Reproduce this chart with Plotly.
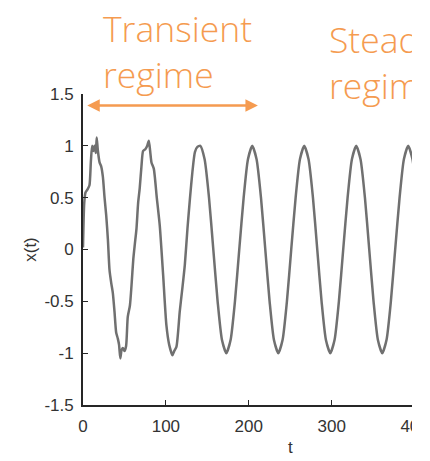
import plotly.graph_objects as go

# ---- data ----
t_transient = [0, 1.5, 3, 5.5, 7.8, 9.5, 11, 12.5, 14, 15.5, 16.5, 18, 20, 22, 24, 26, 28, 30,
               32, 34, 36, 38, 40, 42, 43.5, 45, 46.5, 48, 50, 52, 54, 56.6, 58.5, 60.7, 62.5,
               64.5, 66.5, 68.4, 70.5, 72.5, 75.4, 77.5, 79.4, 81, 82.6, 85.4, 89, 92.6, 96.7,
               100.6, 104, 107.9, 110, 112.7, 116.7, 119.5, 122.8, 126, 129, 132, 135, 138]
x_transient = [0.02, 0.45, 0.55, 0.58, 0.62, 0.85, 1.0, 0.95, 1.0, 0.93, 1.08, 0.95, 0.84, 0.8,
               0.7, 0.5, 0.33, 0.1, -0.2, -0.32, -0.42, -0.6, -0.8, -0.86, -0.92, -1.05, -0.97,
               -0.95, -0.98, -0.93, -0.65, -0.54, -0.35, -0.09, 0.05, 0.2, 0.45, 0.59, 0.8, 0.95,
               0.97, 1.0, 1.05, 0.95, 0.84, 0.78, 0.5, 0.23, -0.25, -0.73, -0.92, -1.02, -0.98,
               -0.94, -0.6, -0.4, -0.15, 0.2, 0.49, 0.75, 0.94, 0.99]
t_steady = [141.5, 146.7, 152.0, 157.2, 162.4, 167.6, 172.9, 178.1, 183.3, 188.5, 193.8, 199.0,
            204.2, 209.4, 214.7, 219.9, 225.1, 230.3, 235.6, 240.8, 246.0, 251.2, 256.5, 261.7,
            266.9, 272.1, 277.4, 282.6, 287.8, 293.0, 298.3, 303.5, 308.7, 313.9, 319.2, 324.4,
            329.6, 334.8, 340.1, 345.3, 350.5, 355.7, 361.0, 366.2, 371.4, 376.6, 381.9, 387.1,
            392.3, 397.5, 402.8, 408.0, 413.2, 418.4]
x_steady = [1, 0.87, 0.5, 0, -0.5, -0.87, -1, -0.87, -0.5, 0, 0.5, 0.87,
            1, 0.87, 0.5, 0, -0.5, -0.87, -1, -0.87, -0.5, 0, 0.5, 0.87,
            1, 0.87, 0.5, 0, -0.5, -0.87, -1, -0.87, -0.5, 0, 0.5, 0.87,
            1, 0.87, 0.5, 0, -0.5, -0.87, -1, -0.87, -0.5, 0, 0.5, 0.87,
            1, 0.87, 0.5, 0, -0.5, -0.87]
x_ticks = [0, 100, 200, 300, 400]
y_ticks = [-1.5, -1, -0.5, 0, 0.5, 1, 1.5]
y_tick_labels = ["-1.5", "-1", "-0.5", "0", "0.5", "1", "1.5"]
arrow_span = [3.3, 211]
arrow_y = 1.39

# the page body has an 8px margin: figure pixel = reference pixel - 8
OFF = 8
W, H = 430 - OFF, 461 - OFF
L, T = 83 - OFF, 94 - OFF
B = H - (405 - OFF)
R = 0
PW, PH = W - L - R, H - T - B
def px(p):  # reference pixel -> paper x
    return (p - OFF - L) / PW
def py(p):  # reference pixel -> paper y
    return (H - B - (p - OFF)) / PH

ORANGE = "#F59B50"
AX = "#262626"
TXT = "#333333"

fig = go.Figure()
fig.add_trace(go.Scatter(x=t_transient + t_steady, y=x_transient + x_steady, mode="lines",
                         line=dict(color="#707070", width=2.5, shape="spline", smoothing=0.6),
                         hoverinfo="skip", showlegend=False))

fig.update_layout(
    width=W, height=H, margin=dict(l=L, r=R, t=T, b=B),
    paper_bgcolor="white", plot_bgcolor="white", showlegend=False,
    xaxis=dict(range=[0, 418.6], tickvals=x_ticks, ticks="inside", ticklen=5, tickwidth=1.3,
               tickcolor=AX, showline=True, linecolor=AX, linewidth=1.8, showgrid=False,
               zeroline=False, ticklabelstandoff=5,
               tickfont=dict(family="Liberation Sans", size=17, color=TXT)),
    yaxis=dict(range=[-1.5, 1.5], tickvals=y_ticks, ticktext=y_tick_labels, ticks="inside",
               ticklen=5, tickwidth=1.3, tickcolor=AX, showline=True, linecolor=AX,
               linewidth=1.8, showgrid=False, zeroline=False, ticklabelstandoff=4,
               tickfont=dict(family="Liberation Sans", size=17, color=TXT),
               title=dict(text="x(t)", font=dict(family="Liberation Sans", size=17, color=TXT),
                          standoff=3)),
)

# x-axis title (centered on the uncropped 0-500 axis)
fig.add_annotation(x=250, y=py(436), xref="x", yref="paper", text="t", showarrow=False,
                   xanchor="center", yanchor="top",
                   font=dict(family="Liberation Sans", size=17, color=TXT))

# Transient regime label
fig.add_annotation(x=px(101), y=py(2), xref="paper", yref="paper",
                   text="Transient<br>regime", showarrow=False, xanchor="left", yanchor="top",
                   align="left", font=dict(family="Open Sans", size=35.5, color=ORANGE, weight=300))

# double-headed arrow
fig.add_annotation(x=arrow_span[1], y=arrow_y, ax=arrow_span[0], ay=arrow_y,
                   xref="x", yref="y", axref="x", ayref="y", text="", showarrow=True,
                   arrowside="end+start", arrowhead=2, arrowsize=1, arrowwidth=2.5,
                   arrowcolor=ORANGE, standoff=0, startstandoff=0)

# Steady regime label (as a shape label so the crop cover hides its overflow)
fig.add_shape(type="rect", xref="paper", yref="paper", x0=px(326), x1=px(520),
              y0=py(120), y1=py(17), line=dict(width=0), fillcolor="rgba(0,0,0,0)",
              layer="above",
              label=dict(text="Steady<br>regime", textposition="top left", padding=0,
                         font=dict(family="Open Sans", size=35.5, color=ORANGE, weight=300)))

# white crop on the right
fig.add_shape(type="rect", xref="paper", yref="paper", x0=px(412), x1=px(480),
              y0=-0.5, y1=1.6, line=dict(width=0), fillcolor="white", layer="above")

fig.write_html("out.html")
